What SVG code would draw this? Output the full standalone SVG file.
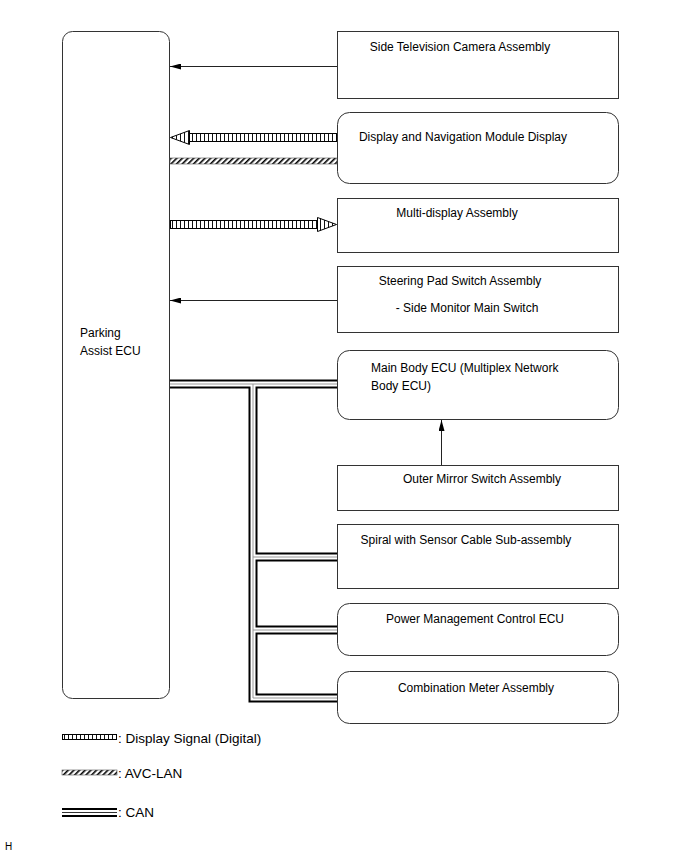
<svg xmlns="http://www.w3.org/2000/svg" width="691" height="854" viewBox="0 0 691 854">
<style>
.box{fill:#fff;stroke:#333;stroke-width:1}
.t{font-family:"Liberation Sans",Arial,sans-serif;font-size:12px;fill:#000}
.tm{text-anchor:middle}
.lg{font-family:"Liberation Sans",Arial,sans-serif;font-size:13.5px;fill:#000}
.wire{fill:none;stroke:#222;stroke-width:1}
.canB{fill:none;stroke:#000;stroke-width:9}
.canW{fill:none;stroke:#fff;stroke-width:5}
.canG{fill:none;stroke:#999;stroke-width:1}
.dsig{fill:url(#ticks);stroke:#000;stroke-width:1}
.avc{fill:url(#hatch);stroke:#555;stroke-width:0.6}
</style>
<defs>
<pattern id="ticks" width="4" height="20" patternUnits="userSpaceOnUse">
<rect width="4" height="20" fill="#fff"/>
<rect x="0" width="1" height="20" fill="#111"/>
</pattern>
<pattern id="hatch" width="4" height="4" patternUnits="userSpaceOnUse" patternTransform="rotate(45)">
<rect width="4" height="4" fill="#fff"/>
<rect x="0" width="1.6" height="4" fill="#000"/>
</pattern>
<marker id="ah" markerWidth="11" markerHeight="6" refX="11" refY="3" orient="auto" markerUnits="userSpaceOnUse">
<path d="M0,0 L11,3 L0,6 Z" fill="#000"/>
</marker>
</defs>

<g id="parking-assist-ecu">
<rect class="box" x="62.5" y="31.5" width="107" height="667" rx="10"/>
<text class="t" x="80" y="337">Parking</text>
<text class="t" x="80" y="355">Assist ECU</text>
</g>
<g id="side-tv-camera">
<rect class="box" x="337.5" y="31.5" width="281" height="67"/>
<text class="t tm" x="460" y="51">Side Television Camera Assembly</text>
</g>
<g id="display-nav">
<rect class="box" x="337.5" y="112.5" width="281" height="71" rx="12"/>
<text class="t tm" x="463" y="141">Display and Navigation Module Display</text>
</g>
<g id="multi-display">
<rect class="box" x="337.5" y="198.5" width="281" height="54"/>
<text class="t tm" x="457" y="217">Multi-display Assembly</text>
</g>
<g id="steering-pad">
<rect class="box" x="337.5" y="266.5" width="281" height="66"/>
<text class="t tm" x="460" y="285">Steering Pad Switch Assembly</text>
<text class="t tm" x="467" y="312">- Side Monitor Main Switch</text>
</g>
<g id="main-body-ecu">
<rect class="box" x="337.5" y="350.5" width="281" height="69" rx="12"/>
<text class="t" x="371" y="372">Main Body ECU (Multiplex Network</text>
<text class="t" x="371" y="390">Body ECU)</text>
</g>
<g id="outer-mirror">
<rect class="box" x="337.5" y="465.5" width="281" height="45"/>
<text class="t tm" x="482" y="483">Outer Mirror Switch Assembly</text>
</g>
<g id="spiral">
<rect class="box" x="337.5" y="524.5" width="281" height="64"/>
<text class="t tm" x="466" y="544">Spiral with Sensor Cable Sub-assembly</text>
</g>
<g id="power-mgmt">
<rect class="box" x="337.5" y="603.5" width="281" height="52" rx="12"/>
<text class="t tm" x="475" y="623">Power Management Control ECU</text>
</g>
<g id="combination-meter">
<rect class="box" x="337.5" y="671.5" width="281" height="52" rx="12"/>
<text class="t tm" x="476" y="692">Combination Meter Assembly</text>
</g>

<g id="connectors">
<line class="wire" x1="337" y1="66.5" x2="170" y2="66.5" marker-end="url(#ah)"/>
<line class="wire" x1="337" y1="300.5" x2="170" y2="300.5" marker-end="url(#ah)"/>
<line class="wire" x1="441.5" y1="465" x2="441.5" y2="420" marker-end="url(#ah)"/>
<rect class="dsig" x="189.5" y="133.5" width="147" height="8"/>
<path class="dsig" d="M170.5,137.5 L189.5,130.5 L189.5,144.5 Z"/>
<rect class="avc" x="170" y="158" width="167" height="6"/>
<rect class="dsig" x="170.5" y="220.5" width="147" height="8"/>
<path class="dsig" d="M336.5,224.5 L317.5,217.5 L317.5,231.5 Z"/>
<g id="can">
<path class="canB" d="M170,384 H337 M253,384 V698 H337 M253,557 H337 M253,630 H337"/>
<path class="canW" d="M170,384 H337 M253,384 V698 H337 M253,557 H337 M253,630 H337"/>
<path class="canG" d="M170,384 H337 M253,384 V698 H337 M253,557 H337 M253,630 H337"/>
</g>
</g>

<g id="legend">
<rect class="dsig" x="62.5" y="734.5" width="54" height="5"/>
<text class="lg" x="118" y="743">: Display Signal (Digital)</text>
<rect class="avc" x="62" y="770" width="55" height="5"/>
<text class="lg" x="118" y="778">: AVC-LAN</text>
<line x1="62" y1="812.5" x2="117" y2="812.5" stroke="#000" stroke-width="9"/>
<line x1="62" y1="812.5" x2="117" y2="812.5" stroke="#fff" stroke-width="5"/>
<line x1="62" y1="812.5" x2="117" y2="812.5" stroke="#333" stroke-width="1.2"/>
<text class="lg" x="118" y="817">: CAN</text>
</g>
<text class="t" x="5" y="850" style="font-size:10px">H</text>
</svg>
